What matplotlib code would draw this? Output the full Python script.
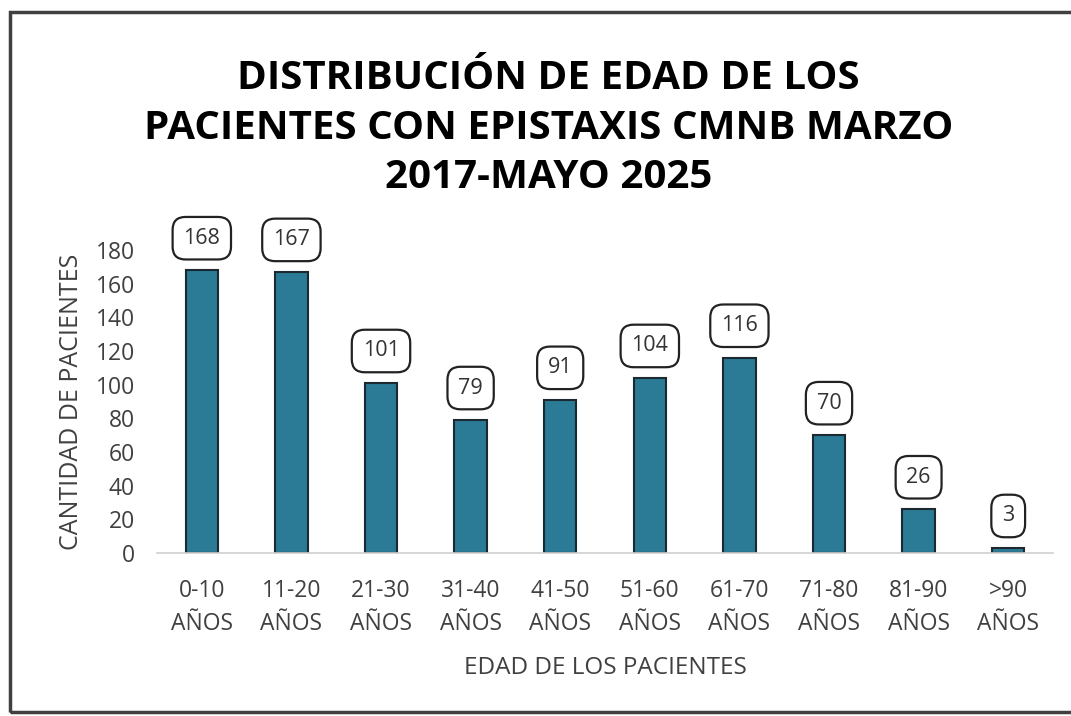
import matplotlib
matplotlib.use('Agg')
import matplotlib.pyplot as plt
from matplotlib.patches import Rectangle

categorias = ['0-10\nAÑOS', '11-20\nAÑOS', '21-30\nAÑOS', '31-40\nAÑOS', '41-50\nAÑOS',
              '51-60\nAÑOS', '61-70\nAÑOS', '71-80\nAÑOS', '81-90\nAÑOS', '>90\nAÑOS']
pacientes = [168, 167, 101, 79, 91, 104, 116, 70, 26, 3]
y_ticks = [0, 20, 40, 60, 80, 100, 120, 140, 160, 180]

plt.rcParams['font.family'] = ['Open Sans', 'DejaVu Sans']

fig = plt.figure(figsize=(10.71, 7.16), dpi=100)
ax = fig.add_axes([0.1466, 0.2277, 0.8366, 0.4232])

# frame around the whole chart
fig.patches.append(Rectangle((0.009, 0.005), 1.2, 0.978, transform=fig.transFigure,
                             fill=False, edgecolor='#404040', linewidth=2.5))

x = list(range(len(categorias)))
ax.bar(x, pacientes, width=0.36, color='#2b7a96', edgecolor='#1a2a30', linewidth=1.5)

for xi, v in zip(x, pacientes):
    ax.annotate(str(v), (xi, v), xytext=(0, 23), textcoords='offset points',
                ha='center', va='center', fontsize=15.5, color='#333333',
                bbox=dict(boxstyle='round,pad=0.5,rounding_size=0.6', fc='white',
                          ec='#222222', lw=1.6), annotation_clip=False)

ax.set_xlim(-0.5, 9.5)
ax.set_ylim(0, 180)
ax.set_yticks(y_ticks)
ax.set_xticks(x)
ax.set_xticklabels(categorias, fontsize=16.5, color='#404040', linespacing=1.5)
ax.tick_params(axis='y', labelsize=16.5, labelcolor='#404040', length=0, pad=16)
ax.tick_params(axis='x', length=0, pad=19)

for s in ['top', 'right', 'left']:
    ax.spines[s].set_visible(False)
ax.spines['bottom'].set_color('#d0d0d0')
ax.spines['bottom'].set_linewidth(1.2)

ax.set_ylabel('CANTIDAD DE PACIENTES', fontsize=18, color='#404040', labelpad=8)
ax.set_xlabel('EDAD DE LOS PACIENTES', fontsize=17.5, color='#404040', labelpad=14)

fig.text(0.512, 0.821, 'DISTRIBUCIÓN DE EDAD DE LOS\nPACIENTES CON EPISTAXIS CMNB MARZO\n2017-MAYO 2025',
         ha='center', va='center', fontsize=29, fontweight='bold', color='black',
         linespacing=1.35)

plt.savefig('out.png', dpi=100)
plt.close()
